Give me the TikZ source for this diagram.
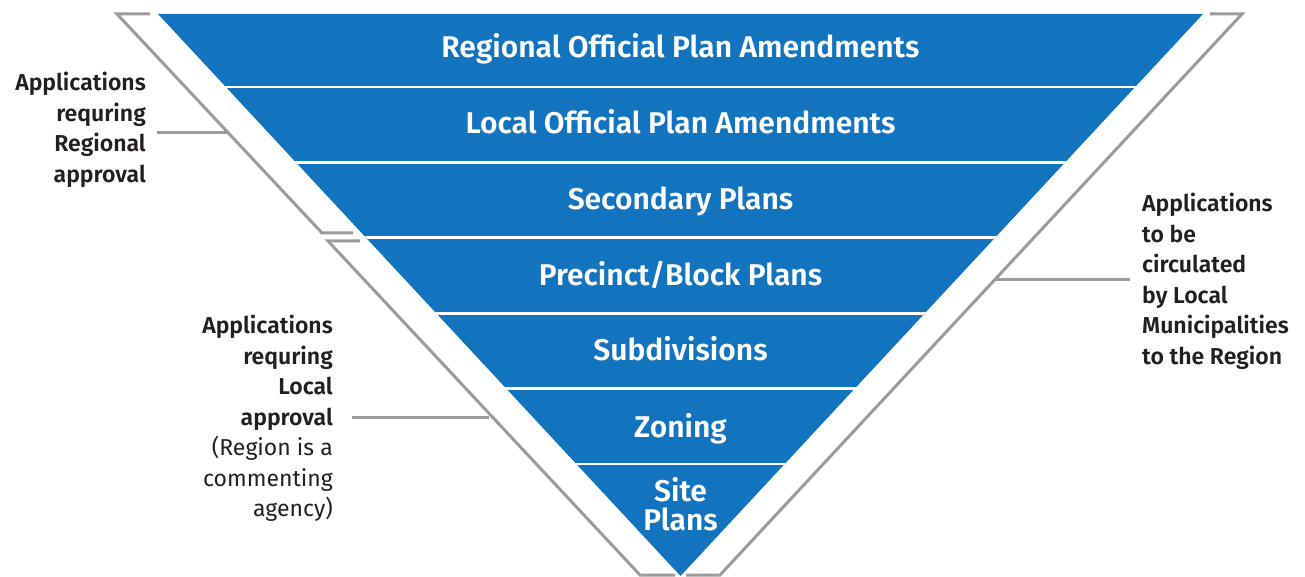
\documentclass[tikz,border=0pt]{standalone}
\usepackage{fontspec}
\setmainfont{Fira Sans}[BoldFont={Fira Sans SemiBold}]
\definecolor{blu}{RGB}{18,115,190}
\definecolor{gry}{RGB}{155,155,155}
\definecolor{txt}{RGB}{35,31,32}
\begin{document}
\begin{tikzpicture}[x=1pt,y=-1pt,
  band/.style={text=white,font=\fontsize{30}{29}\selectfont\bfseries,align=center,inner sep=0pt,anchor=base},
  side/.style={text=txt,font=\fontsize{23}{30.5}\selectfont,inner sep=0pt},
  bracket/.style={draw=gry,line width=3pt,line join=miter},
  leader/.style={draw=gry,line width=3pt}]
\useasboundingbox (0,0) rectangle (1305,577);
% blue inverted triangle
\fill[blu] (158,14) -- (1203,14) -- (680.5,576) -- cycle;
\begin{scope}
  \clip (158,14) -- (1203,14) -- (680.5,576) -- cycle;
  \foreach \y in {87,162.4,237.8,313.2,388.6,464}
    \draw[white,line width=2.6pt] (100,\y) -- (1300,\y);
\end{scope}
% band labels
\node[band] (b1) at (680.5,57.5) {Regional Official Plan Amendments};
\node[band] (b2) at (680.5,133.5) {Local Official Plan Amendments};
\node[band] (b3) at (680.5,209.5) {Secondary Plans};
\node[band] (b4) at (680.5,285) {Precinct/Block Plans};
\node[band] (b5) at (680.5,360.5) {Subdivisions};
\node[band] (b6) at (680.5,437.5) {Zoning};
\node[band,anchor=south] (b7) at (680.5,531.5) {Site\\Plans};
% brackets
\draw[bracket] (150,14) -- (117,14) -- (322,233) -- (353,233);
\draw[bracket] (360,241) -- (328,241) -- (640,575) -- (675,575);
\draw[bracket] (686,575) -- (720,575) -- (1242,14) -- (1210,14);
% side labels
\node[side,anchor=north east,align=right] (t1) at (146,72)
  {\bfseries Applications\\\bfseries requring\\\bfseries Regional\\\bfseries approval};
\node[side,anchor=north east,align=right] (t2) at (333,315)
  {\bfseries Applications\\\bfseries requring\\\bfseries Local\\\bfseries approval\\(Region is a\\commenting\\agency)};
\node[side,anchor=north west,align=left] (t3) at (1142,193)
  {\bfseries Applications\\\bfseries to be\\\bfseries circulated\\\bfseries by Local\\\bfseries Municipalities\\\bfseries to the Region};
% leaders
\coordinate (l1a) at (157,133); \coordinate (l1b) at (229,133);
\coordinate (l2a) at (352,417); \coordinate (l2b) at (489,417);
\coordinate (l3a) at (1130,279); \coordinate (l3b) at (996,279);
\draw[leader] (l1a) -- (l1b);
\draw[leader] (l2a) -- (l2b);
\draw[leader] (l3a) -- (l3b);
\end{tikzpicture}
\end{document}
